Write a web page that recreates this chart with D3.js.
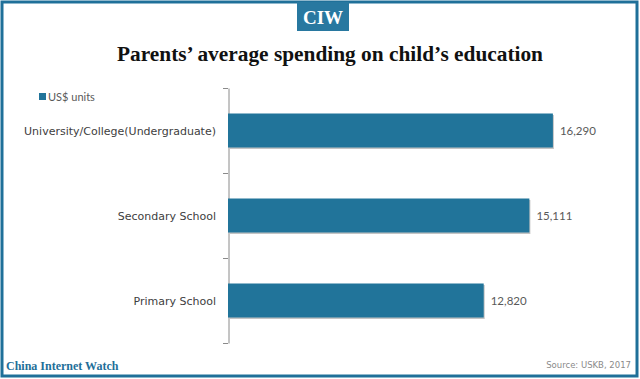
<!DOCTYPE html>
<html><head><meta charset="utf-8">
<script src="https://cdn.jsdelivr.net/npm/d3@7"></script>
<style>
html,body{margin:0;padding:0;background:#fff;}
svg{display:block;}
</style></head>
<body>
<svg id="chart" width="640" height="379"></svg>
<script>
const categories = ["University/College(Undergraduate)", "Secondary School", "Primary School"];
const values = [16290, 15111, 12820];
const seriesName = "US$ units";
const title = "Parents\u2019 average spending on child\u2019s education";
const brand = "CIW";
const footerLeft = "China Internet Watch";
const footerRight = "Source: USKB, 2017";

const blue = "#21749a";
const svg = d3.select("#chart");
const W = 640, H = 379;

// frame
svg.append("rect").attr("x", 2).attr("y", 2).attr("width", W - 5).attr("height", H - 5)
  .attr("fill", "#fff").attr("stroke", "#1f7099").attr("stroke-width", 3);

// badge
svg.append("rect").attr("x", 297).attr("y", 2).attr("width", 52).attr("height", 29).attr("fill", "#2878a0");
svg.append("text").attr("x", 323).attr("y", 24).attr("text-anchor", "middle")
  .attr("font-family", "Liberation Serif, serif").attr("font-weight", "bold").attr("font-size", 19)
  .attr("fill", "#fff").text(brand);

// title
svg.append("text").attr("x", 330).attr("y", 61).attr("text-anchor", "middle")
  .attr("font-family", "Liberation Serif, serif").attr("font-weight", "bold").attr("font-size", 20)
  .attr("textLength", 426).attr("lengthAdjust", "spacingAndGlyphs")
  .attr("fill", "#111").text(title);

// scales
const x = d3.scaleLinear().domain([0, 18000]).range([228, 587]);
const y = d3.scaleBand().domain(categories).range([88, 343]).paddingInner(0.6).paddingOuter(0.3);

// axis line
const axis = d3.axisLeft(y).tickSize(0).tickFormat("");
const gAxis = svg.append("g").attr("transform", "translate(228.5,0)").call(axis);
gAxis.select(".domain").attr("stroke", "#8a8a8a");
// tick marks between categories
const boundaries = [88, 88 + (343-88)/3, 88 + 2*(343-88)/3, 343];
svg.selectAll(".bt").data(boundaries).enter().append("line")
  .attr("x1", 223).attr("x2", 228).attr("y1", d => Math.round(d) + 0.5).attr("y2", d => Math.round(d) + 0.5)
  .attr("stroke", "#8a8a8a").attr("stroke-width", 1);

const data = categories.map((c, i) => ({c, v: values[i]}));
// shadows
svg.selectAll(".sh").data(data).enter().append("rect")
  .attr("x", x(0) + 1).attr("y", d => y(d.c) + 1.5)
  .attr("width", d => x(d.v) - x(0)).attr("height", y.bandwidth())
  .attr("fill", "#c4c4c4");
svg.selectAll(".bar").data(data).enter().append("rect")
  .attr("x", x(0)).attr("y", d => y(d.c))
  .attr("width", d => x(d.v) - x(0)).attr("height", y.bandwidth())
  .attr("fill", blue);

// value labels
svg.selectAll(".vl").data(data).enter().append("text")
  .attr("x", d => x(d.v) + 7).attr("y", d => y(d.c) + y.bandwidth()/2 + 4)
  .attr("font-family", "Lato, sans-serif").attr("font-size", 11.5).attr("fill", "#595959")
  .text(d => d3.format(",")(d.v));

// category labels
svg.selectAll(".cl").data(data).enter().append("text")
  .attr("x", 216).attr("y", d => y(d.c) + y.bandwidth()/2 + 4)
  .attr("text-anchor", "end")
  .attr("font-family", "DejaVu Sans, sans-serif").attr("font-size", 11).attr("fill", "#404040")
  .text(d => d.c);

// legend
svg.append("rect").attr("x", 39).attr("y", 93).attr("width", 7).attr("height", 7).attr("fill", blue);
svg.append("text").attr("x", 48).attr("y", 101)
  .attr("font-family", "Lato, sans-serif").attr("font-size", 11).attr("fill", "#595959").text(seriesName);

// footer
svg.append("text").attr("x", 6).attr("y", 370)
  .attr("font-family", "Liberation Serif, serif").attr("font-weight", "bold").attr("font-size", 12)
  .attr("fill", "#1f6f99").text(footerLeft);
svg.append("text").attr("x", 631).attr("y", 368).attr("text-anchor", "end")
  .attr("font-family", "DejaVu Sans, sans-serif").attr("font-size", 8.5).attr("fill", "#8a8a8a")
  .text(footerRight);
</script>
</body></html>
